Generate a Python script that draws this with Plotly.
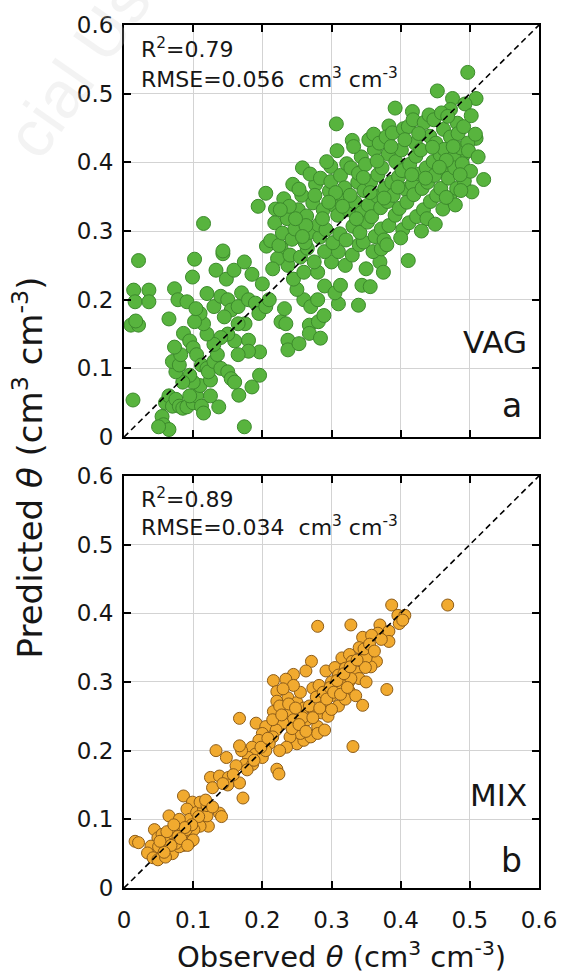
import plotly.graph_objects as go

# ---------------- data ----------------
tick_vals = [0, 0.1, 0.2, 0.3, 0.4, 0.5, 0.6]
tick_text = ["0", "0.1", "0.2", "0.3", "0.4", "0.5", "0.6"]
one_to_one = [0, 0.6]

# VAG: (observed, predicted)
vag_pairs = [
    (0.010, 0.163), (0.014, 0.214), (0.016, 0.197), (0.021, 0.163), (0.017, 0.169),
    (0.021, 0.257), (0.036, 0.214), (0.036, 0.197), (0.013, 0.054),
    (0.055, 0.030), (0.057, 0.018), (0.065, 0.011), (0.050, 0.015), (0.060, 0.050),
    (0.065, 0.060), (0.070, 0.045), (0.075, 0.055), (0.080, 0.045), (0.085, 0.042),
    (0.091, 0.044), (0.100, 0.050), (0.105, 0.060), (0.112, 0.045), (0.110, 0.075),
    (0.100, 0.080), (0.095, 0.090), (0.085, 0.080), (0.075, 0.095), (0.070, 0.110),
    (0.080, 0.105), (0.082, 0.120), (0.073, 0.131), (0.086, 0.151), (0.095, 0.140),
    (0.100, 0.130), (0.105, 0.120), (0.112, 0.105), (0.120, 0.100), (0.125, 0.083),
    (0.122, 0.095), (0.130, 0.110), (0.135, 0.120), (0.140, 0.100), (0.150, 0.095),
    (0.155, 0.085), (0.137, 0.044), (0.166, 0.061), (0.160, 0.080), (0.185, 0.073),
    (0.196, 0.090), (0.196, 0.124), (0.180, 0.141), (0.180, 0.125), (0.165, 0.120),
    (0.160, 0.140), (0.150, 0.150), (0.140, 0.145), (0.130, 0.135), (0.120, 0.150),
    (0.115, 0.165), (0.110, 0.180), (0.102, 0.168), (0.065, 0.172), (0.073, 0.216),
    (0.078, 0.200), (0.091, 0.197), (0.104, 0.187), (0.120, 0.209), (0.102, 0.259),
    (0.099, 0.233), (0.133, 0.243), (0.143, 0.267), (0.148, 0.230), (0.159, 0.243),
    (0.174, 0.255), (0.185, 0.237), (0.200, 0.223), (0.130, 0.190), (0.140, 0.205),
    (0.150, 0.200), (0.155, 0.185), (0.165, 0.190), (0.170, 0.210), (0.180, 0.200),
    (0.190, 0.195), (0.195, 0.180), (0.205, 0.190), (0.210, 0.200), (0.175, 0.165),
    (0.165, 0.165), (0.145, 0.175), (0.174, 0.015), (0.125, 0.060), (0.095, 0.060),
    (0.115, 0.035),
    (0.227, 0.168), (0.234, 0.165), (0.232, 0.187), (0.237, 0.141), (0.237, 0.127),
    (0.253, 0.136), (0.260, 0.200), (0.270, 0.190), (0.280, 0.200), (0.250, 0.215),
    (0.245, 0.230), (0.260, 0.240), (0.280, 0.240), (0.268, 0.163), (0.281, 0.168),
    (0.289, 0.177), (0.268, 0.151), (0.284, 0.144), (0.310, 0.194), (0.290, 0.220),
    (0.305, 0.210), (0.313, 0.221), (0.339, 0.192), (0.344, 0.221), (0.356, 0.219),
    (0.227, 0.276), (0.237, 0.250), (0.222, 0.260), (0.215, 0.245), (0.240, 0.265),
    (0.255, 0.262), (0.275, 0.255), (0.300, 0.255), (0.320, 0.250), (0.330, 0.265),
    (0.350, 0.245), (0.370, 0.255), (0.375, 0.240), (0.411, 0.257), (0.360, 0.270),
    (0.340, 0.280), (0.310, 0.270), (0.290, 0.270), (0.265, 0.275), (0.206, 0.278),
    (0.346, 0.284), (0.372, 0.274),
    (0.307, 0.456), (0.258, 0.392), (0.299, 0.394), (0.205, 0.355), (0.194, 0.336),
    (0.219, 0.332), (0.115, 0.311), (0.143, 0.271), (0.497, 0.531), (0.453, 0.504),
    (0.475, 0.493), (0.509, 0.493), (0.493, 0.485), (0.472, 0.477), (0.392, 0.479),
    (0.417, 0.474), (0.383, 0.453), (0.509, 0.435), (0.520, 0.375), (0.330, 0.432),
    (0.493, 0.362), (0.490, 0.410),
    (0.212, 0.286), (0.218, 0.312), (0.224, 0.279), (0.229, 0.297), (0.236, 0.318),
    (0.231, 0.347), (0.243, 0.288), (0.247, 0.303), (0.252, 0.331), (0.257, 0.352),
    (0.244, 0.368), (0.262, 0.283), (0.253, 0.361), (0.268, 0.298), (0.264, 0.322),
    (0.273, 0.341), (0.277, 0.368), (0.269, 0.383), (0.283, 0.291), (0.281, 0.309),
    (0.276, 0.352), (0.292, 0.302), (0.288, 0.331), (0.297, 0.358), (0.284, 0.377),
    (0.293, 0.401), (0.302, 0.283), (0.303, 0.338), (0.299, 0.372), (0.312, 0.296),
    (0.309, 0.323), (0.317, 0.349), (0.313, 0.381), (0.322, 0.398), (0.308, 0.417),
    (0.321, 0.287), (0.324, 0.331), (0.319, 0.363), (0.331, 0.307), (0.334, 0.342),
    (0.338, 0.371), (0.328, 0.392), (0.343, 0.408), (0.332, 0.423), (0.341, 0.298),
    (0.344, 0.327), (0.347, 0.359), (0.339, 0.384), (0.352, 0.313), (0.353, 0.338),
    (0.357, 0.372), (0.349, 0.397), (0.362, 0.418), (0.354, 0.433), (0.363, 0.292),
    (0.358, 0.321), (0.366, 0.351), (0.367, 0.382), (0.361, 0.441), (0.372, 0.303),
    (0.371, 0.334), (0.377, 0.362), (0.373, 0.392), (0.382, 0.412), (0.369, 0.428),
    (0.383, 0.308), (0.381, 0.343), (0.387, 0.371), (0.379, 0.437), (0.376, 0.287),
    (0.392, 0.323), (0.389, 0.352), (0.397, 0.379), (0.393, 0.401), (0.401, 0.418),
    (0.388, 0.443), (0.403, 0.302), (0.398, 0.333), (0.407, 0.361), (0.402, 0.388),
    (0.404, 0.449), (0.412, 0.312), (0.409, 0.342), (0.417, 0.368), (0.413, 0.397),
    (0.421, 0.428), (0.411, 0.452), (0.423, 0.321), (0.419, 0.353), (0.427, 0.383),
    (0.422, 0.409), (0.418, 0.462), (0.433, 0.331), (0.431, 0.362), (0.437, 0.392),
    (0.429, 0.418), (0.442, 0.438), (0.434, 0.458), (0.443, 0.343), (0.439, 0.371),
    (0.447, 0.401), (0.441, 0.469), (0.438, 0.318), (0.452, 0.352), (0.449, 0.381),
    (0.457, 0.411), (0.451, 0.428), (0.462, 0.448), (0.448, 0.462), (0.461, 0.332),
    (0.458, 0.362), (0.467, 0.387), (0.463, 0.419), (0.459, 0.472), (0.471, 0.348),
    (0.469, 0.377), (0.477, 0.408), (0.472, 0.437), (0.482, 0.457), (0.468, 0.467),
    (0.481, 0.362), (0.478, 0.392), (0.487, 0.421), (0.483, 0.442), (0.479, 0.338),
    (0.492, 0.373), (0.489, 0.398), (0.497, 0.428), (0.491, 0.452), (0.502, 0.468),
    (0.501, 0.387), (0.498, 0.417), (0.508, 0.441), (0.503, 0.357), (0.512, 0.408),
    (0.263, 0.308), (0.287, 0.318), (0.306, 0.356), (0.327, 0.352), (0.346, 0.378),
    (0.366, 0.402), (0.386, 0.423), (0.406, 0.433), (0.426, 0.442), (0.446, 0.422),
    (0.466, 0.403), (0.486, 0.382), (0.316, 0.336), (0.336, 0.318), (0.356, 0.356),
    (0.376, 0.348), (0.396, 0.364), (0.416, 0.382), (0.436, 0.377), (0.456, 0.393),
    (0.476, 0.423), (0.296, 0.342), (0.248, 0.318), (0.239, 0.336), (0.258, 0.292),
    (0.226, 0.331), (0.466, 0.349), (0.487, 0.359), (0.380, 0.280), (0.400, 0.290),
    (0.430, 0.300), (0.450, 0.310),
]

# MIX: (observed, predicted)
mix_pairs = [
    (0.387, 0.412), (0.468, 0.412), (0.396, 0.397), (0.406, 0.397), (0.398, 0.385),
    (0.403, 0.390), (0.370, 0.383), (0.367, 0.371), (0.383, 0.374), (0.383, 0.359),
    (0.280, 0.381), (0.328, 0.383), (0.351, 0.359), (0.345, 0.365), (0.358, 0.368),
    (0.365, 0.330), (0.357, 0.322), (0.345, 0.340), (0.340, 0.350), (0.350, 0.335),
    (0.380, 0.289), (0.345, 0.266), (0.271, 0.330), (0.263, 0.316), (0.245, 0.311),
    (0.234, 0.304), (0.216, 0.302), (0.292, 0.316), (0.305, 0.321), (0.315, 0.335),
    (0.326, 0.340), (0.330, 0.330), (0.320, 0.320), (0.310, 0.310), (0.300, 0.300),
    (0.335, 0.315), (0.340, 0.305), (0.325, 0.300), (0.315, 0.295), (0.273, 0.291),
    (0.282, 0.295), (0.310, 0.291), (0.326, 0.286), (0.328, 0.305), (0.221, 0.286),
    (0.237, 0.277), (0.221, 0.272), (0.216, 0.257), (0.167, 0.247), (0.191, 0.240),
    (0.205, 0.235), (0.250, 0.270), (0.260, 0.262), (0.275, 0.258), (0.285, 0.255),
    (0.265, 0.245), (0.280, 0.235), (0.295, 0.250), (0.290, 0.270), (0.300, 0.280),
    (0.255, 0.285), (0.245, 0.295), (0.230, 0.290), (0.225, 0.265), (0.240, 0.255),
    (0.245, 0.245), (0.230, 0.240), (0.220, 0.230), (0.215, 0.220), (0.200, 0.225),
    (0.210, 0.210), (0.195, 0.215), (0.185, 0.205), (0.190, 0.195), (0.200, 0.190),
    (0.180, 0.190), (0.175, 0.180), (0.170, 0.200), (0.167, 0.207), (0.133, 0.200),
    (0.148, 0.190), (0.125, 0.161), (0.138, 0.163), (0.151, 0.161), (0.128, 0.146),
    (0.150, 0.150), (0.167, 0.153), (0.172, 0.131), (0.221, 0.173), (0.224, 0.166),
    (0.331, 0.206), (0.250, 0.210), (0.260, 0.215), (0.255, 0.225), (0.270, 0.220),
    (0.280, 0.225), (0.290, 0.230), (0.240, 0.220), (0.235, 0.205), (0.225, 0.200),
    (0.205, 0.200), (0.186, 0.180), (0.310, 0.265), (0.320, 0.275), (0.335, 0.280),
    (0.350, 0.300), (0.300, 0.260), (0.349, 0.321),
    (0.215, 0.245), (0.228, 0.252), (0.238, 0.268), (0.248, 0.262), (0.258, 0.248),
    (0.268, 0.265), (0.278, 0.278), (0.288, 0.285), (0.298, 0.292), (0.308, 0.302),
    (0.318, 0.312), (0.327, 0.322), (0.337, 0.332), (0.347, 0.348), (0.355, 0.355),
    (0.362, 0.345), (0.372, 0.362), (0.243, 0.232), (0.253, 0.238), (0.263, 0.228),
    (0.273, 0.248), (0.283, 0.262), (0.293, 0.275), (0.303, 0.285), (0.313, 0.282),
    (0.323, 0.292), (0.198, 0.205), (0.208, 0.218), (0.178, 0.172), (0.188, 0.186),
    (0.162, 0.178), (0.158, 0.165), (0.143, 0.152),
    (0.086, 0.134), (0.099, 0.125), (0.109, 0.112), (0.091, 0.115), (0.104, 0.100),
    (0.114, 0.100), (0.122, 0.090), (0.138, 0.109), (0.141, 0.104), (0.110, 0.090),
    (0.065, 0.105), (0.075, 0.090), (0.081, 0.080), (0.070, 0.072), (0.091, 0.075),
    (0.101, 0.085), (0.096, 0.067), (0.086, 0.062), (0.100, 0.070), (0.044, 0.085),
    (0.049, 0.073), (0.039, 0.061), (0.049, 0.051), (0.060, 0.055), (0.065, 0.065),
    (0.055, 0.078), (0.016, 0.068), (0.021, 0.066), (0.034, 0.051), (0.042, 0.044),
    (0.049, 0.041), (0.065, 0.051), (0.070, 0.050), (0.080, 0.060), (0.060, 0.070),
    (0.055, 0.060), (0.075, 0.065), (0.085, 0.095), (0.095, 0.100), (0.105, 0.110),
    (0.115, 0.115), (0.120, 0.105), (0.090, 0.085), (0.060, 0.045), (0.050, 0.060),
    (0.070, 0.080), (0.080, 0.100), (0.110, 0.125), (0.120, 0.120),
    (0.118, 0.128), (0.128, 0.118), (0.108, 0.104), (0.098, 0.092), (0.088, 0.088),
    (0.078, 0.075), (0.068, 0.062), (0.058, 0.052), (0.052, 0.068), (0.062, 0.082),
    (0.072, 0.092), (0.082, 0.072), (0.092, 0.062),
]

vag_obs = [p[0] for p in vag_pairs]
vag_pred = [p[1] for p in vag_pairs]
mix_obs = [p[0] for p in mix_pairs]
mix_pred = [p[1] for p in mix_pairs]

# ---------------- figure ----------------
FONT = "DejaVu Sans, Liberation Sans, Arial, sans-serif"
INK = "#161616"

fig = go.Figure()

fig.add_trace(go.Scatter(
    x=vag_obs, y=vag_pred, mode="markers", xaxis="x", yaxis="y",
    marker=dict(size=14, color="#58b43e", line=dict(color="#3c8a2c", width=1)),
    showlegend=False, hoverinfo="skip"))
fig.add_trace(go.Scatter(
    x=one_to_one, y=one_to_one, mode="lines", xaxis="x", yaxis="y",
    line=dict(color="black", width=1.6, dash="6px,4px"),
    showlegend=False, hoverinfo="skip"))

fig.add_trace(go.Scatter(
    x=mix_obs, y=mix_pred, mode="markers", xaxis="x2", yaxis="y2",
    marker=dict(size=12, color="#f1aa2f", line=dict(color="#8d5c18", width=1)),
    showlegend=False, hoverinfo="skip"))
fig.add_trace(go.Scatter(
    x=one_to_one, y=one_to_one, mode="lines", xaxis="x2", yaxis="y2",
    line=dict(color="black", width=1.6, dash="6px,4px"),
    showlegend=False, hoverinfo="skip"))

axis_common = dict(
    range=[0, 0.6], tickvals=tick_vals, ticktext=tick_text,
    ticks="inside", ticklen=7, tickwidth=1.5, tickcolor="black",
    showline=True, linecolor="black", linewidth=2, mirror="ticks",
    showgrid=True, gridcolor="#d3d3d3", gridwidth=1, zeroline=False,
    tickfont=dict(family=FONT, size=23, color=INK),
)

top_dom = [0.5225, 1.0]
bot_dom = [0.0, 0.4775]

fig.update_layout(
    width=569, height=976,
    margin=dict(l=124, r=26, t=21, b=88),
    paper_bgcolor="white", plot_bgcolor="white",
    xaxis=dict(axis_common, domain=[0, 1], anchor="y", showticklabels=False),
    yaxis=dict(axis_common, domain=top_dom, anchor="x", ticklabelstandoff=4),
    xaxis2=dict(axis_common, domain=[0, 1], anchor="y2", ticklabelstandoff=10),
    yaxis2=dict(axis_common, domain=bot_dom, anchor="x2", ticklabelstandoff=4),
)

ann_font = dict(family=FONT, size=22, color=INK)
big_font = dict(family=FONT, size=31, color=INK)
letter_font = dict(family=FONT, size=33, color=INK)

annotations = [
    dict(text="R<sup>2</sup>=0.79", x=0.021, y=0.566, xref="x", yref="y",
         xanchor="left", yanchor="middle", showarrow=False, font=ann_font),
    dict(text="RMSE=0.056  cm<sup>3</sup> cm<sup>-3</sup>", x=0.021, y=0.523, xref="x", yref="y",
         xanchor="left", yanchor="middle", showarrow=False, font=ann_font),
    dict(text="VAG", x=0.585, y=0.138, xref="x", yref="y",
         xanchor="right", yanchor="middle", showarrow=False, font=big_font),
    dict(text="a", x=0.578, y=0.046, xref="x", yref="y",
         xanchor="right", yanchor="middle", showarrow=False, font=letter_font),
    dict(text="R<sup>2</sup>=0.89", x=0.021, y=0.568, xref="x2", yref="y2",
         xanchor="left", yanchor="middle", showarrow=False, font=ann_font),
    dict(text="RMSE=0.034  cm<sup>3</sup> cm<sup>-3</sup>", x=0.021, y=0.527, xref="x2", yref="y2",
         xanchor="left", yanchor="middle", showarrow=False, font=ann_font),
    dict(text="MIX", x=0.585, y=0.135, xref="x2", yref="y2",
         xanchor="right", yanchor="middle", showarrow=False, font=big_font),
    dict(text="b", x=0.578, y=0.040, xref="x2", yref="y2",
         xanchor="right", yanchor="middle", showarrow=False, font=letter_font),
    dict(text="Observed <i>θ</i> (cm<sup>3</sup> cm<sup>-3</sup>)", x=0.524, y=-0.078,
         xref="paper", yref="paper", xanchor="center", yanchor="middle",
         showarrow=False, font=dict(family=FONT, size=29, color=INK)),
    dict(text="Predicted <i>θ</i> (cm<sup>3</sup> cm<sup>-3</sup>)", x=-0.232, y=0.487,
         xref="paper", yref="paper", xanchor="center", yanchor="middle", textangle=-90,
         showarrow=False, font=dict(family=FONT, size=34, color=INK)),
    # faint watermark fragment in the top-left corner
    dict(text="cial Us", x=-0.11, y=0.95, xref="paper", yref="paper",
         xanchor="center", yanchor="middle", textangle=-55, showarrow=False,
         font=dict(family="Liberation Sans, Arial, sans-serif", size=66,
                   color="rgba(200,200,200,0.22)")),
]
fig.update_layout(annotations=annotations)

fig.write_html(
    "out.html",
    config={"displayModeBar": False},
    post_script="document.body.style.margin='0px';document.body.style.overflow='hidden';",
)
